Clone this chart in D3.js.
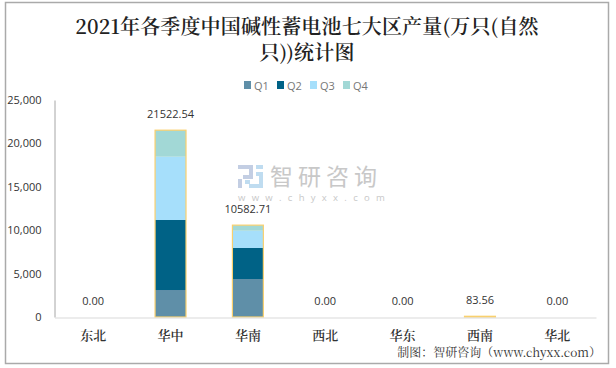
<!DOCTYPE html>
<html>
<head>
<meta charset="utf-8">
<script src="https://cdnjs.cloudflare.com/ajax/libs/d3/7.8.5/d3.min.js"></script>
<style>
  html, body { margin: 0; padding: 0; background: #fff; }
  svg { display: block; }
  .tick text, .val { font-family: "Open Sans", "Noto Sans", sans-serif; font-size: 11px; fill: #333; }
  .song { font-family: "SimSun", "Noto Serif CJK SC", "Liberation Serif", "Noto Sans CJK SC", serif; }
</style>
</head>
<body>
<svg id="chart" width="616" height="368"></svg>
<script>
  let titleLines = ['2021年各季度中国碱性蓄电池七大区产量(万只(自然', '只))统计图'];
  let categories = ['东北', '华中', '华南', '西北', '华东', '西南', '华北'];
  let seriesNames = ['Q1', 'Q2', 'Q3', 'Q4'];
  let q1 = [0, 3110, 4378, 0, 0, 83.56, 0];
  let q2 = [0, 8065, 3572, 0, 0, 0, 0];
  let q3 = [0, 7293, 1990, 0, 0, 0, 0];
  let q4 = [0, 3054.54, 642.71, 0, 0, 0, 0];
  let totals = [0, 21522.54, 10582.71, 0, 0, 83.56, 0];
  let colors = ['#5f8fa8', '#006286', '#a6dffb', '#a2d8d6'];
  let yTicks = [0, 5000, 10000, 15000, 20000, 25000];

  let svg = d3.select('#chart');

  // outer frame
  svg.append('rect')
    .attr('x', 5.5).attr('y', 2.5)
    .attr('width', 603).attr('height', 361)
    .attr('fill', '#fff').attr('stroke', '#aaa').attr('stroke-width', 1.5);

  // title, one text with two lines
  svg.append('text')
    .attr('class', 'song')
    .attr('text-anchor', 'middle')
    .attr('font-size', 20)
    .attr('font-weight', 600)
    .attr('letter-spacing', 0.15)
    .attr('fill', '#222')
    .selectAll('tspan')
    .data(titleLines)
    .enter()
    .append('tspan')
    .attr('x', 307)
    .attr('y', function(d, i) { return 33.5 + i * 26; })
    .text(function(d) { return d; });

  // legend
  let legendX = d3.scaleBand().domain(seriesNames).range([244, 376]);
  let legend = svg.selectAll('.legend')
    .data(seriesNames)
    .enter()
    .append('g')
    .attr('class', 'legend')
    .attr('transform', function(d) { return 'translate(' + legendX(d) + ',81)'; });
  legend.append('rect')
    .attr('width', 7).attr('height', 8)
    .attr('fill', function(d, i) { return colors[i]; });
  legend.append('text')
    .attr('x', 10).attr('y', 8.5)
    .attr('font-family', '"Open Sans", sans-serif')
    .attr('font-size', 11)
    .attr('fill', '#777')
    .text(function(d) { return d; });

  // scales
  let x = d3.scaleBand().domain(categories).range([54.5, 596]).paddingInner(0.6).paddingOuter(0.3);
  let y = d3.scaleLinear().domain([0, 25000]).range([317, 100]);

  // stacked bars
  let rows = categories.map(function(c, i) {
    return { cat: c, Q1: q1[i], Q2: q2[i], Q3: q3[i], Q4: q4[i] };
  });
  let stacked = d3.stack().keys(seriesNames)(rows);

  svg.selectAll('.layer')
    .data(stacked)
    .enter()
    .append('g')
    .attr('class', 'layer')
    .attr('fill', function(d, i) { return colors[i]; })
    .selectAll('rect')
    .data(function(d) { return d; })
    .enter()
    .append('rect')
    .attr('x', function(d) { return x(d.data.cat); })
    .attr('width', x.bandwidth())
    .attr('y', function(d) { return y(d[1]); })
    .attr('height', function(d) { return y(d[0]) - y(d[1]); });

  // total outline
  svg.selectAll('.total')
    .data(categories.filter(function(c, i) { return totals[i] > 0; }))
    .enter()
    .append('rect')
    .attr('class', 'total')
    .attr('x', function(d) { return x(d); })
    .attr('width', x.bandwidth())
    .attr('y', function(d) { return y(totals[categories.indexOf(d)]); })
    .attr('height', function(d) { return 317 - y(totals[categories.indexOf(d)]); })
    .attr('fill', 'none')
    .attr('stroke', '#f9d06e')
    .attr('stroke-width', 1.2);

  // axes
  let yAxis = svg.append('g')
    .attr('transform', 'translate(54.5,0)')
    .call(d3.axisLeft(y).tickValues(yTicks).tickSize(0).tickPadding(13).tickFormat(d3.format(',')));
  yAxis.select('.domain').attr('stroke', '#a6a6a6');

  let xAxis = svg.append('g')
    .attr('transform', 'translate(0,317.5)')
    .call(d3.axisBottom(x).tickSize(0).tickPadding(13));
  xAxis.select('.domain').attr('stroke', '#d9d9d9');
  xAxis.selectAll('text')
    .style('font-family', '"SimSun", "Noto Serif CJK SC", "Noto Sans CJK SC", serif')
    .style('font-size', '13px')
    .style('font-weight', 600);

  // watermark
  let mark = svg.append('g').attr('transform', 'translate(238,165)');
  mark.append('path')
    .attr('d', 'M0 0H15V14H5V10H11V4H0Z M0 14H4V23H0Z')
    .attr('fill', '#c3cee3');
  mark.append('path')
    .attr('d', 'M18 0H25V4H18Z M18 7H25V23H11V19H21V11H18Z M7 15H12V19H7Z')
    .attr('fill', '#bfdcf0');
  svg.append('text')
    .attr('x', 270).attr('y', 185)
    .attr('font-family', '"Noto Sans CJK SC", sans-serif')
    .attr('font-size', 23)
    .attr('letter-spacing', 5)
    .attr('fill', '#c8c8c8')
    .text('智研咨询');
  svg.append('text')
    .attr('x', 238).attr('y', 201)
    .attr('font-family', '"Open Sans", sans-serif')
    .attr('font-size', 9.5)
    .attr('letter-spacing', 6.3)
    .attr('fill', '#c8c8c8')
    .text('www.chyxx.com');

  // value labels
  svg.selectAll('.val')
    .data(totals)
    .enter()
    .append('text')
    .attr('class', 'val')
    .attr('x', function(d, i) { return x(categories[i]) + x.bandwidth() / 2; })
    .attr('y', function(d) { return y(d) - 12; })
    .attr('text-anchor', 'middle')
    .text(function(d) { return d.toFixed(2); });

  // source line
  svg.append('text')
    .attr('class', 'song')
    .attr('x', 601).attr('y', 357)
    .attr('text-anchor', 'end')
    .attr('font-size', 12)
    .attr('fill', '#333')
    .text('制图：智研咨询（www.chyxx.com）');
</script>
</body>
</html>
